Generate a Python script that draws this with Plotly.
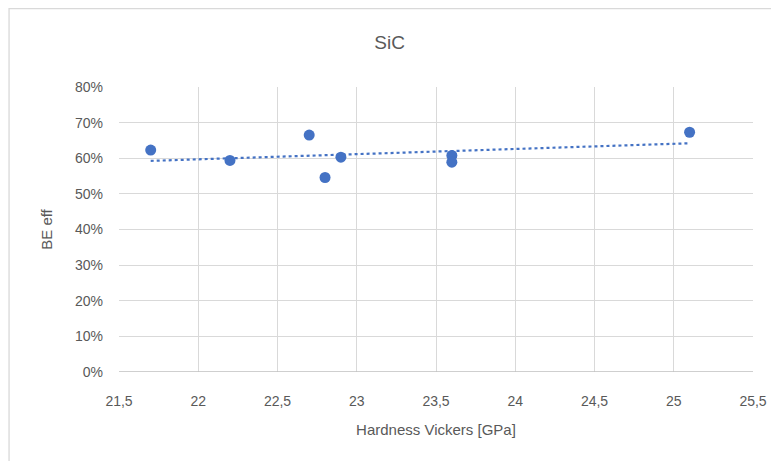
import numpy as np
import plotly.graph_objects as go

hardness = [21.7, 22.2, 22.7, 22.8, 22.9, 23.6, 23.6, 25.1]
be_eff = [62.3, 59.4, 66.5, 54.6, 60.3, 60.8, 58.9, 67.3]
x_ticks = [21.5, 22, 22.5, 23, 23.5, 24, 24.5, 25, 25.5]
y_ticks = [0, 10, 20, 30, 40, 50, 60, 70, 80]

blue = "#4472C4"
grey_txt = "#595959"
font_fam = "Liberation Sans Narrow, Arial Narrow, Liberation Sans, sans-serif"

slope, intercept = np.polyfit(hardness, be_eff, 1)
tx = [min(hardness), max(hardness)]
ty = [slope * v + intercept for v in tx]

W, H = 771, 453
L, R, T, B = 111, 24, 79, 89
pw, ph = W - L - R, H - T - B

fig = go.Figure()
fig.add_trace(go.Scatter(x=tx, y=ty, mode="lines",
                         line=dict(color=blue, width=2.2, dash="dot"),
                         hoverinfo="skip", showlegend=False))
fig.add_trace(go.Scatter(x=hardness, y=be_eff, mode="markers",
                         marker=dict(color=blue, size=11),
                         showlegend=False))

fig.update_layout(
    width=W, height=H,
    margin=dict(l=L, r=R, t=T, b=B),
    paper_bgcolor="white", plot_bgcolor="white",
    separators=",.",
    font=dict(family=font_fam, color=grey_txt, size=14),
    title=dict(text="SiC", x=0.495, xanchor="center",
               y=1 - 34 / H, yanchor="middle",
               font=dict(size=19, color=grey_txt, family=font_fam)),
    xaxis=dict(range=[21.5, 25.5], tickvals=x_ticks,
               ticktext=[str(v).replace(".", ",") for v in x_ticks],
               showgrid=True, gridcolor="#d9d9d9", gridwidth=1.3,
               zeroline=False, showline=False, ticks="",
               ticklabelstandoff=19,
               title=dict(text="Hardness Vickers [GPa]", standoff=16,
                          font=dict(size=15, color=grey_txt)),
               tickfont=dict(size=14, color=grey_txt)),
    yaxis=dict(range=[0, 80], tickvals=y_ticks,
               ticktext=[f"{v}%" for v in y_ticks],
               showgrid=True, gridcolor="#d9d9d9", gridwidth=1.3,
               zeroline=False, showline=False, ticks="",
               ticklabelstandoff=15,
               title=dict(text="BE eff", standoff=18,
                          font=dict(size=15, color=grey_txt)),
               tickfont=dict(size=14, color=grey_txt)),
    shapes=[
        dict(type="line", xref="paper", yref="y", x0=0, x1=1, y0=0, y1=0,
             line=dict(color="#bfbfbf", width=1.5)),
        dict(type="rect", xref="paper", yref="paper",
             x0=(0.7 - L) / pw, x1=(W + 20 - L) / pw,
             y0=-(B + 20) / ph, y1=(ph + T - 0.7) / ph,
             line=dict(color="#d9d9d9", width=1.3), layer="below"),
    ],
)

fig.write_html("out.html")
